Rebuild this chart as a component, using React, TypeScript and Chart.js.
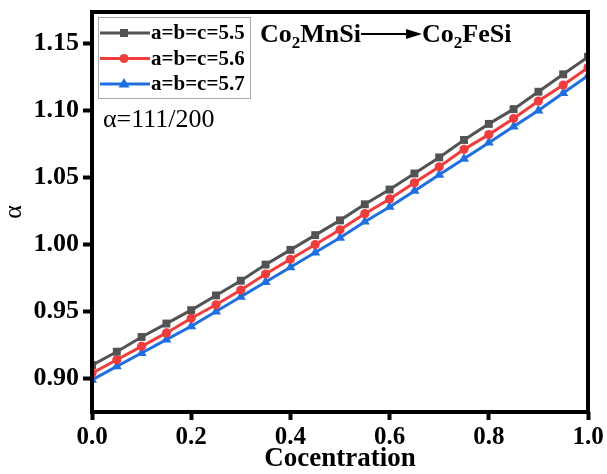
import React, { useEffect, useRef } from "react";
import { Chart, registerables } from "chart.js";

Chart.register(...registerables);

const concentrations = [0, 0.05, 0.1, 0.15, 0.2, 0.25, 0.3, 0.35, 0.4, 0.45, 0.5, 0.55, 0.6, 0.65, 0.7, 0.75, 0.8, 0.85, 0.9, 0.95, 1.0];
const alpha55 = [0.910, 0.920, 0.931, 0.941, 0.951, 0.962, 0.973, 0.985, 0.996, 1.007, 1.018, 1.030, 1.041, 1.053, 1.065, 1.078, 1.090, 1.101, 1.114, 1.127, 1.140];
const alpha56 = [0.904, 0.914, 0.924, 0.934, 0.945, 0.955, 0.966, 0.978, 0.989, 1.000, 1.011, 1.023, 1.034, 1.046, 1.058, 1.071, 1.082, 1.094, 1.107, 1.119, 1.132];
const alpha57 = [0.899, 0.909, 0.919, 0.929, 0.939, 0.950, 0.961, 0.972, 0.983, 0.994, 1.005, 1.017, 1.028, 1.040, 1.052, 1.064, 1.076, 1.088, 1.100, 1.113, 1.126];
const seriesLabels = ["a=b=c=5.5", "a=b=c=5.6", "a=b=c=5.7"];
const xTicks = [0, 0.2, 0.4, 0.6, 0.8, 1.0];
const yTicks = [0.90, 0.95, 1.00, 1.05, 1.10, 1.15];
const xTitle = "Cocentration";
const yTitle = "α";
const noteText = "α=111/200";

const SERIF = "'Liberation Serif', 'Times New Roman', serif";
const GRAY = "#535353";
const RED = "#ef3d3d";
const BLUE = "#1f6fe0";

const framePlugin = {
  id: "frame",
  afterDatasetsDraw(chart: any) {
    const { ctx, chartArea } = chart;
    ctx.save();
    ctx.strokeStyle = "#000";
    ctx.lineWidth = 4;
    ctx.strokeRect(chartArea.left, chartArea.top, chartArea.right - chartArea.left, chartArea.bottom - chartArea.top);
    ctx.restore();
  },
};

const legendPlugin = {
  id: "insideLegend",
  afterDraw(chart: any) {
    const { ctx, chartArea } = chart;
    const bx = chartArea.left + 6;
    const by = chartArea.top + 5;
    const bw = 152;
    const bh = 81;
    ctx.save();
    ctx.strokeStyle = "#a8a8a8";
    ctx.lineWidth = 1;
    ctx.strokeRect(bx + 0.5, by + 0.5, bw, bh);
    chart.data.datasets.forEach((ds: any, i: number) => {
      const y = by + 16 + i * 25.5;
      ctx.strokeStyle = ds.borderColor;
      ctx.lineWidth = 3;
      ctx.beginPath();
      ctx.moveTo(bx + 2, y);
      ctx.lineTo(bx + 52, y);
      ctx.stroke();
      ctx.fillStyle = ds.borderColor;
      const cx = bx + 26;
      if (ds.pointStyle === "rect") {
        ctx.fillRect(cx - 4, y - 4, 8, 8);
      } else if (ds.pointStyle === "circle") {
        ctx.beginPath();
        ctx.arc(cx, y, 4.5, 0, Math.PI * 2);
        ctx.fill();
      } else {
        ctx.beginPath();
        ctx.moveTo(cx, y - 6);
        ctx.lineTo(cx + 5.5, y + 3.5);
        ctx.lineTo(cx - 5.5, y + 3.5);
        ctx.closePath();
        ctx.fill();
      }
      ctx.fillStyle = "#000";
      ctx.font = `bold 21px ${SERIF}`;
      ctx.textBaseline = "middle";
      ctx.textAlign = "left";
      ctx.fillText(ds.label, bx + 53, y + 1);
    });
    ctx.restore();
  },
};

function drawFormula(ctx: any, x: number, base: number, main: string, rest: string) {
  ctx.font = `bold 26px ${SERIF}`;
  ctx.fillText(main, x, base);
  x += ctx.measureText(main).width;
  ctx.font = `bold 17px ${SERIF}`;
  ctx.fillText("2", x, base + 6);
  x += ctx.measureText("2").width;
  ctx.font = `bold 26px ${SERIF}`;
  ctx.fillText(rest, x, base);
  x += ctx.measureText(rest).width;
  return x;
}

const notePlugin = {
  id: "notes",
  afterDraw(chart: any) {
    const { ctx, chartArea } = chart;
    ctx.save();
    ctx.fillStyle = "#000";
    ctx.textBaseline = "alphabetic";
    ctx.textAlign = "left";
    const base = chartArea.top + 30;
    let x = drawFormula(ctx, 260, base, "Co", "MnSi");
    const arrowEnd = 422;
    const yMid = base - 8;
    ctx.strokeStyle = "#000";
    ctx.lineWidth = 2;
    ctx.beginPath();
    ctx.moveTo(x, yMid);
    ctx.lineTo(arrowEnd - 10, yMid);
    ctx.stroke();
    ctx.beginPath();
    ctx.moveTo(arrowEnd, yMid);
    ctx.lineTo(arrowEnd - 16, yMid - 5);
    ctx.lineTo(arrowEnd - 16, yMid + 5);
    ctx.closePath();
    ctx.fill();
    drawFormula(ctx, arrowEnd, base, "Co", "FeSi");
    ctx.font = `26px ${SERIF}`;
    ctx.fillText(noteText, chartArea.left + 11, chartArea.top + 115);
    ctx.restore();
  },
};

export default function App() {
  const canvasRef = useRef<HTMLCanvasElement | null>(null);

  useEffect(() => {
    const canvas = canvasRef.current;
    if (!canvas) return;
    const mk = (vals: number[]) => concentrations.map((c, i) => ({ x: c, y: vals[i] }));
    const chart = new Chart(canvas, {
      type: "line",
      data: {
        datasets: [
          { label: seriesLabels[0], data: mk(alpha55), borderColor: GRAY, backgroundColor: GRAY, pointStyle: "rect", pointRadius: 5.6, borderWidth: 3, pointBorderWidth: 0 },
          { label: seriesLabels[1], data: mk(alpha56), borderColor: RED, backgroundColor: RED, pointStyle: "circle", pointRadius: 4.6, borderWidth: 3, pointBorderWidth: 0 },
          { label: seriesLabels[2], data: mk(alpha57), borderColor: BLUE, backgroundColor: BLUE, pointStyle: "triangle", pointRadius: 5.8, borderWidth: 3, pointBorderWidth: 0 },
        ] as any,
      },
      options: {
        animation: false,
        responsive: false,
        maintainAspectRatio: false,
        layout: { padding: { top: 12, right: 19, left: 0, bottom: 0 } },
        plugins: { legend: { display: false }, tooltip: { enabled: false } },
        elements: { line: { tension: 0 } },
        scales: {
          x: {
            type: "linear",
            min: 0,
            max: 1,
            afterBuildTicks: (s: any) => { s.ticks = xTicks.map((v) => ({ value: v })); },
            afterFit: (s: any) => { s.height = 62; s.paddingLeft = 0; s.paddingRight = 0; },
            ticks: {
              color: "#000",
              padding: 3,
              maxRotation: 0,
              font: { family: SERIF, size: 25, weight: "bold" },
              callback: (v: any) => Number(v).toFixed(1),
            },
            grid: { drawOnChartArea: false, drawTicks: true, tickLength: 8, tickWidth: 4, tickColor: "#000" },
            border: { display: false },
            title: { display: true, text: xTitle, color: "#000", font: { family: SERIF, size: 27, weight: "bold", lineHeight: 1.0 }, padding: { top: 0, bottom: 1 } },
          },
          y: {
            type: "linear",
            min: 0.875,
            max: 1.1735,
            afterBuildTicks: (s: any) => { s.ticks = yTicks.map((v) => ({ value: v })); },
            afterFit: (s: any) => { s.width = 92; s.paddingTop = 0; s.paddingBottom = 0; },
            ticks: {
              color: "#000",
              padding: 4,
              font: { family: SERIF, size: 26, weight: "bold" },
              callback: (v: any) => Number(v).toFixed(2),
            },
            grid: { drawOnChartArea: false, drawTicks: true, tickLength: 9, tickWidth: 4, tickColor: "#000" },
            border: { display: false },
            title: { display: true, text: yTitle, color: "#000", font: { family: SERIF, size: 26, weight: "normal", lineHeight: 1 }, padding: { top: 1, bottom: 0 } },
          },
        },
      } as any,
      plugins: [framePlugin, legendPlugin, notePlugin],
    });
    return () => chart.destroy();
  }, []);

  return (
    <div style={{ position: "fixed", left: 0, top: 0, width: 607, height: 474, background: "#fff" }}>
      <canvas ref={canvasRef} width={607} height={474} style={{ width: 607, height: 474, display: "block" }} />
    </div>
  );
}
